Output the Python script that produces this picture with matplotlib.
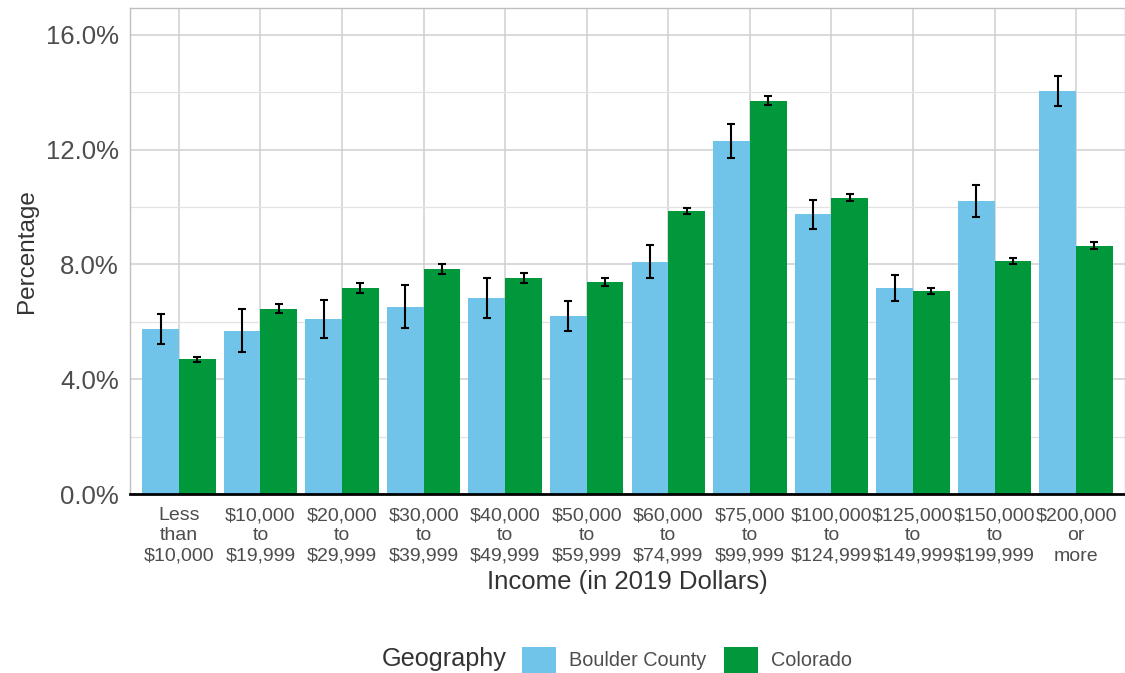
import numpy as np
import matplotlib
matplotlib.use("Agg")
import matplotlib.pyplot as plt
from matplotlib.patches import Patch
from matplotlib.ticker import MultipleLocator, FuncFormatter

# --- data ---
categories = [
    "Less\nthan\n$10,000", "$10,000\nto\n$19,999", "$20,000\nto\n$29,999",
    "$30,000\nto\n$39,999", "$40,000\nto\n$49,999", "$50,000\nto\n$59,999",
    "$60,000\nto\n$74,999", "$75,000\nto\n$99,999", "$100,000\nto\n$124,999",
    "$125,000\nto\n$149,999", "$150,000\nto\n$199,999", "$200,000\nor\nmore",
]
boulder = [5.75, 5.69, 6.09, 6.53, 6.84, 6.21, 8.09, 12.30, 9.74, 7.19, 10.20, 14.05]
boulder_moe = [0.51, 0.74, 0.67, 0.75, 0.70, 0.53, 0.57, 0.60, 0.50, 0.45, 0.55, 0.53]
colorado = [4.69, 6.46, 7.19, 7.84, 7.53, 7.38, 9.86, 13.70, 10.32, 7.07, 8.11, 8.65]
colorado_moe = [0.10, 0.17, 0.17, 0.16, 0.18, 0.15, 0.12, 0.15, 0.12, 0.11, 0.11, 0.13]
series_names = ["Boulder County", "Colorado"]

BLUE = "#70C4EA"
GREEN = "#00983B"
TEXT = "#4D4D4D"

plt.rcParams['font.family'] = ['Liberation Sans', 'DejaVu Sans']

fig = plt.figure(figsize=(11.25, 6.73), dpi=100)
ax = fig.add_axes([130 / 1125, 1 - 494 / 673, 1 - 130 / 1125, (494 - 7.5) / 673])

x = np.arange(1, len(categories) + 1)
w = 0.45
err_kw = dict(ecolor="black", elinewidth=1.5, capsize=3.2, capthick=1.5)
ax.bar(x - w / 2, boulder, w, color=BLUE, yerr=boulder_moe, error_kw=err_kw, zorder=3)
ax.bar(x + w / 2, colorado, w, color=GREEN, yerr=colorado_moe, error_kw=err_kw, zorder=3)

ax.set_xlim(0.4, len(categories) + 0.6)
ax.set_ylim(0, 16.95)
ax.yaxis.set_major_locator(MultipleLocator(4))
ax.yaxis.set_minor_locator(MultipleLocator(2))
ax.yaxis.set_major_formatter(FuncFormatter(lambda v, p: f"{v:.1f}%"))
ax.set_xticks(x)
ax.set_xticklabels(categories, fontsize=14, color=TEXT, linespacing=1.25)

ax.grid(True, which="major", color="#CFCFCF", linewidth=1.1, zorder=0)
ax.grid(True, which="minor", axis="y", color="#E2E2E2", linewidth=0.9, zorder=0)
ax.set_axisbelow(True)

for side in ["top", "left", "right"]:
    ax.spines[side].set_color("#BFBFBF")
    ax.spines[side].set_linewidth(1.0)
ax.spines["bottom"].set_color("black")
ax.spines["bottom"].set_linewidth(2.0)
ax.spines["bottom"].set_zorder(4)

ax.tick_params(axis="y", which="major", labelsize=18.5, labelcolor=TEXT, length=0, pad=8)
ax.tick_params(axis="y", which="minor", length=0)
ax.tick_params(axis="x", length=0, pad=9.5)

ax.set_ylabel("Percentage", fontsize=17.5, color="#333333", labelpad=6)
ax.set_xlabel("Income (in 2019 Dollars)", fontsize=18.5, color="#333333", labelpad=4)

# legend at the bottom, title on the left
fig.text(382 / 1125, 1 - 659 / 673, "Geography", fontsize=18.2, color="#333333",
         ha="left", va="center")
handles = [Patch(facecolor=BLUE, label=series_names[0]),
           Patch(facecolor=GREEN, label=series_names[1])]
fig.legend(handles=handles, loc="center left", bbox_to_anchor=(522 / 1125, 1 - 660 / 673),
           ncol=2, frameon=False, fontsize=14.3, handlelength=1.71, handleheight=1.71,
           handletextpad=0.65, columnspacing=0.9, borderpad=0, borderaxespad=0,
           labelcolor=TEXT)

fig.savefig("out.png", dpi=100)
